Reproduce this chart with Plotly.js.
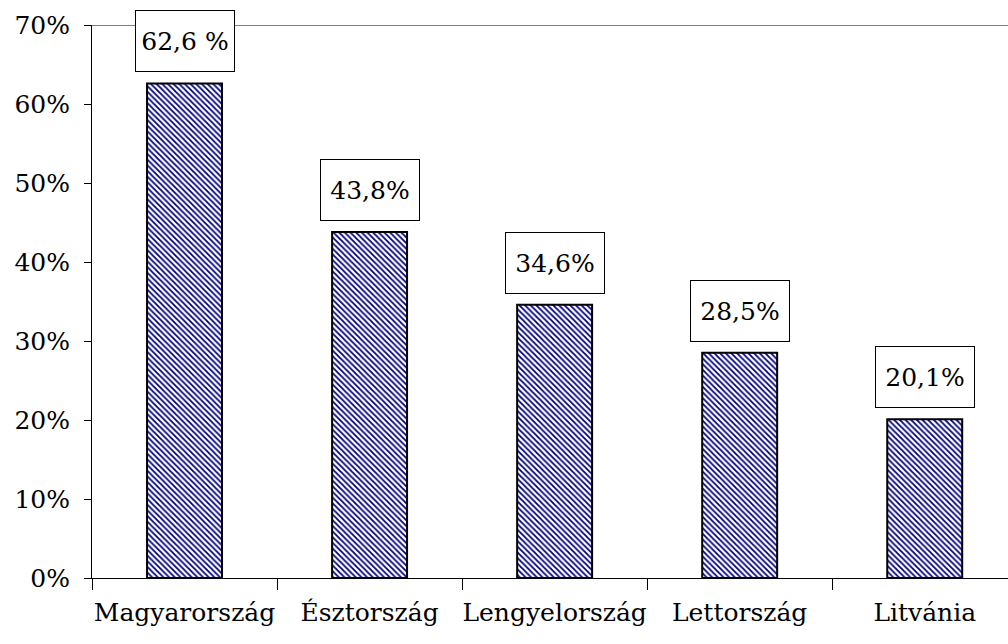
<!DOCTYPE html>
<html>
<head>
<meta charset="utf-8">
<script src="https://cdn.plot.ly/plotly-3.0.1.min.js"></script>
<style>html,body{margin:0;padding:0;background:#fff;}#chart{width:1008px;height:644px;}</style>
</head>
<body>
<div id="chart"></div>
<script>
const categories = ["Magyarország", "Észtország", "Lengyelország", "Lettország", "Litvánia"];
const values = [0.626, 0.438, 0.346, 0.285, 0.201];
const labels = ["62,6 %", "43,8%", "34,6%", "28,5%", "20,1%"];
const yTickVals = [0, 0.1, 0.2, 0.3, 0.4, 0.5, 0.6, 0.7];
const yTickText = ["0%", "10%", "20%", "30%", "40%", "50%", "60%", "70%"];

const font = {family: "DejaVu Serif", size: 25, color: "#000"};

const trace = {
  type: "bar",
  x: categories,
  y: values,
  marker: {
    color: "#ffffff",
    line: {color: "#000000", width: 2},
    pattern: {shape: "\\", fgcolor: "#000080", bgcolor: "#ffffff", size: 4, solidity: 0.45}
  },
  hoverinfo: "none"
};

const annotations = categories.map((c, i) => ({
  x: c, y: values[i], xref: "x", yref: "y",
  text: labels[i], showarrow: false,
  yanchor: "bottom", yshift: 11,
  width: 96, height: 58, align: "center", valign: "middle",
  font: font,
  bgcolor: "#ffffff", bordercolor: "#000000", borderwidth: 1, borderpad: 1
}));

const layout = {
  width: 1008, height: 644,
  margin: {l: 92, r: 0, t: 25, b: 66},
  paper_bgcolor: "#ffffff", plot_bgcolor: "#ffffff",
  showlegend: false,
  bargap: 0.595,
  font: font,
  xaxis: {
    type: "category",
    range: [-0.5, 4.45],
    tickson: "boundaries",
    tickangle: 0,
    automargin: false,
    ticks: "outside", ticklen: 11, tickwidth: 1, tickcolor: "#000",
    showline: true, linecolor: "#000", linewidth: 1,
    showgrid: false, zeroline: false,
    tickfont: font,
    ticklabelstandoff: 12
  },
  yaxis: {
    range: [0, 0.7],
    tickvals: yTickVals, ticktext: yTickText,
    automargin: false,
    ticks: "outside", ticklen: 7, tickwidth: 1, tickcolor: "#000",
    showline: true, linecolor: "#000", linewidth: 1,
    showgrid: false, zeroline: false,
    tickfont: font,
    ticklabelstandoff: 9
  },
  shapes: [{
    type: "line", xref: "paper", yref: "y", x0: 0, x1: 1, y0: 0.7, y1: 0.7,
    line: {color: "#808080", width: 2}
  }],
  annotations: annotations
};

Plotly.newPlot("chart", [trace], layout, {staticPlot: true, displayModeBar: false});
</script>
</body>
</html>
